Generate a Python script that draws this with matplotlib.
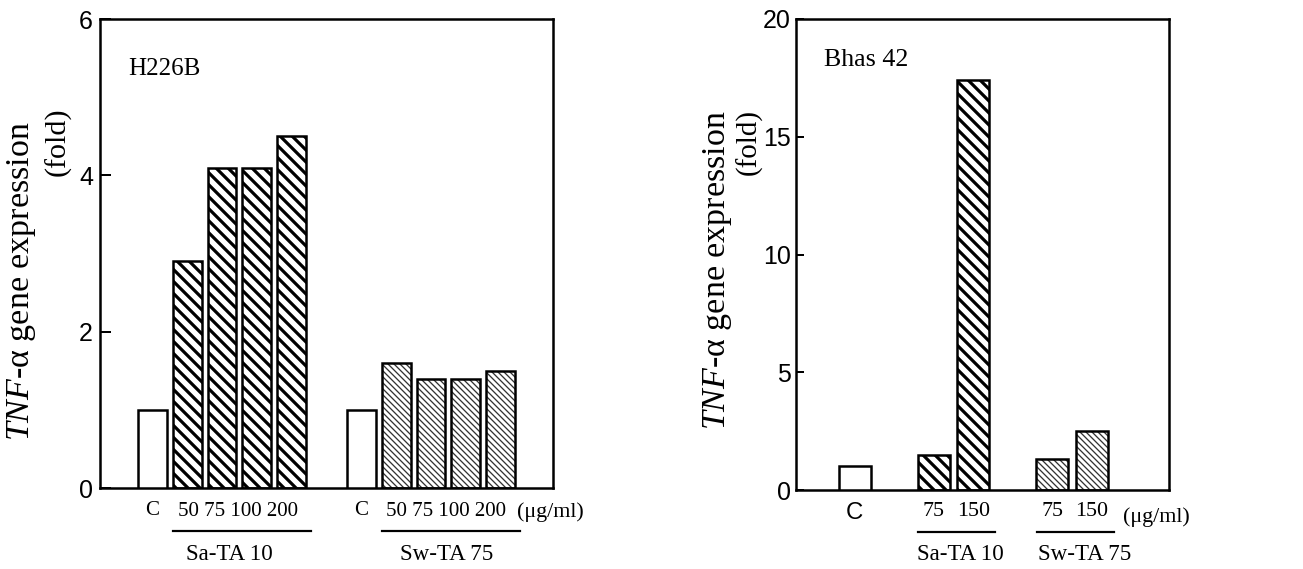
import matplotlib
matplotlib.use('Agg')
import matplotlib.pyplot as plt
from matplotlib.lines import Line2D

# ---------------- data ----------------
left_sa_labels = ['C', '50', '75', '100', '200']
left_sa_values = [1.0, 2.9, 4.1, 4.1, 4.5]
left_sw_labels = ['C', '50', '75', '100', '200']
left_sw_values = [1.0, 1.6, 1.4, 1.4, 1.5]
left_yticks = [0, 2, 4, 6]
left_title = 'H226B'

right_c_labels = ['C']
right_c_values = [1.0]
right_sa_labels = ['75', '150']
right_sa_values = [1.5, 17.4]
right_sw_labels = ['75', '150']
right_sw_values = [1.3, 2.5]
right_yticks = [0, 5, 10, 15, 20]
right_title = 'Bhas 42'

group_names = ['Sa-TA 10', 'Sw-TA 75']
unit_label = '(μg/ml)'

# ---------------- style ----------------
W, H, DPI = 1303, 569, 72
plt.rcParams['mathtext.fontset'] = 'custom'
plt.rcParams['mathtext.rm'] = 'Liberation Serif'
plt.rcParams['mathtext.it'] = 'Liberation Serif:italic'
SERIF = 'Liberation Serif'
SANS = 'Liberation Sans'

fig = plt.figure(figsize=(W / DPI, H / DPI), dpi=DPI)


def px(x, y):
    return x / W, 1 - y / H


def axes_rect(x0, y0, x1, y1):
    return [x0 / W, 1 - y1 / H, (x1 - x0) / W, (y1 - y0) / H]


ax1 = fig.add_axes(axes_rect(100, 19, 553, 488))
ax2 = fig.add_axes(axes_rect(796, 19, 1169, 490))

STYLES = {
    'c': dict(hatch=None, color='black', hlw=1.0),
    'sa': dict(hatch='\\\\', color='black', hlw=3.2),
    'sw': dict(hatch='\\\\\\\\', color='#333333', hlw=1.3),
}


def draw_bars(ax, x, h, w, kind):
    st = STYLES[kind]
    if st['hatch']:
        with plt.rc_context({'hatch.linewidth': st['hlw'], 'hatch.color': st['color']}):
            bars = ax.bar(x, h, w, color='white', edgecolor=st['color'],
                          linewidth=0, hatch=st['hatch'], zorder=2)
            for b in bars:
                if hasattr(b, 'set_hatch_linewidth'):
                    b.set_hatch_linewidth(st['hlw'])
    ax.bar(x, h, w, color='white' if not st['hatch'] else 'none',
           edgecolor='black', linewidth=2.5, zorder=3)


def style_axes(ax, ticklen, pad):
    for s in ax.spines.values():
        s.set_linewidth(2.5)
    ax.tick_params(axis='y', direction='in', length=ticklen, width=2,
                   labelsize=25, pad=pad)
    for lab in ax.get_yticklabels():
        lab.set_fontfamily(SANS)
    ax.tick_params(axis='x', length=0, pad=10)


# ---------------- left panel ----------------
w1 = 0.83
sa_x1 = list(range(1, len(left_sa_values)))
sw_x1 = list(range(len(left_sa_values) + 2, len(left_sa_values) + 1 + len(left_sw_values)))
c_x1 = [0, len(left_sa_values) + 1]
draw_bars(ax1, c_x1, [left_sa_values[0], left_sw_values[0]], w1, 'c')
draw_bars(ax1, sa_x1, left_sa_values[1:], w1, 'sa')
draw_bars(ax1, sw_x1, left_sw_values[1:], w1, 'sw')
ax1.set_xlim(-1.5, 11.5)
ax1.set_ylim(0, left_yticks[-1])
ax1.set_yticks(left_yticks)
ax1.set_yticklabels([str(t) for t in left_yticks])
ax1.set_xticks(c_x1)
ax1.set_xticklabels([left_sa_labels[0], left_sw_labels[0]], fontfamily=SERIF, fontsize=21)
style_axes(ax1, 11, 7)
ax1.tick_params(axis='x', pad=13)
# dose labels typed as one row under each group, as in the original figure
fig.text(*px(238.5, 512), ' '.join(left_sa_labels[1:]), fontfamily=SERIF, fontsize=21,
         ha='center', va='center')
fig.text(*px(445.5, 512), ' '.join(left_sw_labels[1:]), fontfamily=SERIF, fontsize=21,
         ha='center', va='center')
fig.text(*px(128, 69), left_title, fontfamily=SERIF, fontsize=25, ha='left', va='center')

# underlines and group labels (left)
tr1 = ax1.get_xaxis_transform()
uy1 = (488 - 531) / (488 - 19)
for xs in (sa_x1, sw_x1):
    ax1.add_line(Line2D([xs[0] - 0.4, xs[-1] + 0.55], [uy1, uy1], transform=tr1,
                        color='black', lw=2.2, clip_on=False))
fig.text(*px(229, 555), group_names[0], fontfamily=SERIF, fontsize=23, ha='center', va='center')
fig.text(*px(447, 555), group_names[1], fontfamily=SERIF, fontsize=23, ha='center', va='center')
fig.text(*px(517, 512), unit_label, fontfamily=SERIF, fontsize=22, ha='left', va='center')

# y label (left)
ylab1 = r'$\mathit{TNF}$-α gene expression'
fig.text(*px(22, 281), ylab1, rotation=90, fontfamily=SERIF, fontsize=34, ha='center', va='center')
fig.text(*px(58, 142), '(fold)', rotation=90, fontfamily=SERIF, fontsize=30, ha='center', va='center')

# ---------------- right panel ----------------
w2 = 0.81
c_x2 = [0]
sa_x2 = [2, 3]
sw_x2 = [5, 6]
draw_bars(ax2, c_x2, right_c_values, w2, 'c')
draw_bars(ax2, sa_x2, right_sa_values, w2, 'sa')
draw_bars(ax2, sw_x2, right_sw_values, w2, 'sw')
ax2.set_xlim(-1.49, 7.95)
ax2.set_ylim(0, right_yticks[-1])
ax2.set_yticks(right_yticks)
ax2.set_yticklabels([str(t) for t in right_yticks])
ax2.set_xticks(c_x2 + sa_x2 + sw_x2)
ax2.set_xticklabels(right_c_labels + right_sa_labels + right_sw_labels,
                    fontfamily=SERIF, fontsize=22)
style_axes(ax2, 8, 5)
labs = ax2.get_xticklabels()
labs[0].set_fontfamily(SANS)
labs[0].set_fontsize(24)
ax2.tick_params(axis='x', pad=12)
fig.text(*px(824, 60), right_title, fontfamily=SERIF, fontsize=26, ha='left', va='center')

tr2 = ax2.get_xaxis_transform()
uy2 = (490 - 532) / (490 - 19)
for xs in (sa_x2, sw_x2):
    ax2.add_line(Line2D([xs[0] - 0.4, xs[-1] + 0.55], [uy2, uy2], transform=tr2,
                        color='black', lw=2.2, clip_on=False))
fig.text(*px(960, 555), group_names[0], fontfamily=SERIF, fontsize=23, ha='center', va='center')
fig.text(*px(1085, 555), group_names[1], fontfamily=SERIF, fontsize=23, ha='center', va='center')
fig.text(*px(1123, 517), unit_label, fontfamily=SERIF, fontsize=22, ha='left', va='center')

fig.text(*px(718, 270), ylab1, rotation=90, fontfamily=SERIF, fontsize=34, ha='center', va='center')
fig.text(*px(749, 142), '(fold)', rotation=90, fontfamily=SERIF, fontsize=29, ha='center', va='center')

fig.savefig('out.png', dpi=DPI)
